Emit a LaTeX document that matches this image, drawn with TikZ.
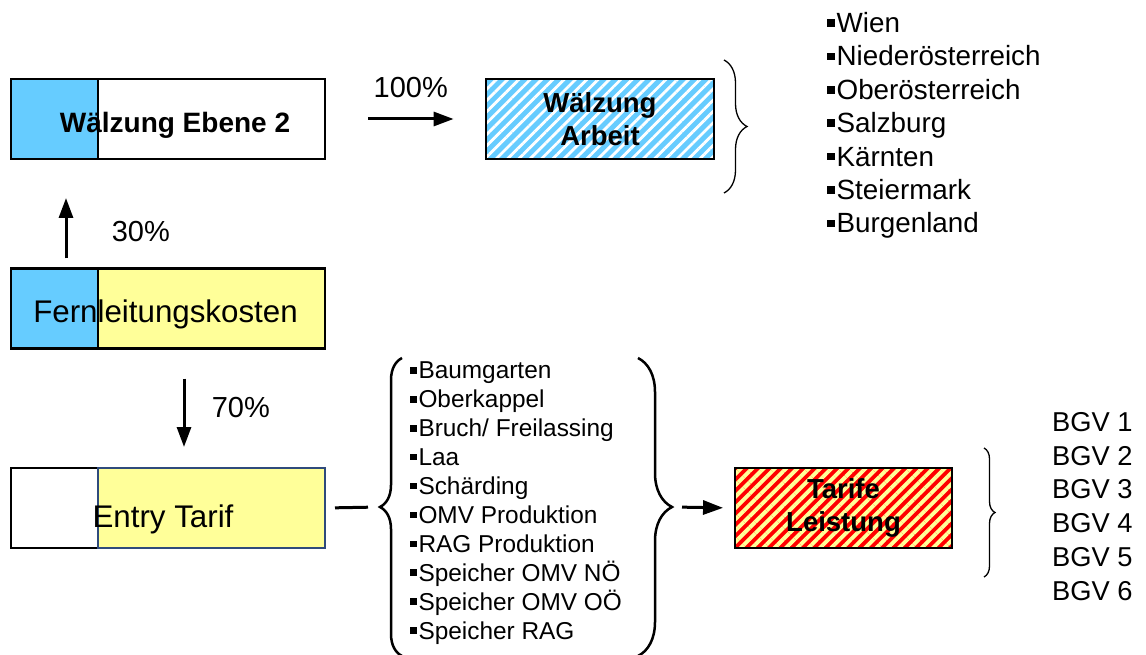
\documentclass[tikz,border=0pt]{standalone}
\usepackage{fontspec}
\setmainfont{Liberation Sans}
\usetikzlibrary{arrows.meta,decorations.pathreplacing,patterns.meta}
\definecolor{boxblue}{HTML}{66CCFF}
\definecolor{boxyellow}{HTML}{FFFF99}
\definecolor{boxred}{HTML}{FF0000}
\definecolor{boxnavy}{HTML}{2F4B7C}
\newcommand{\sqb}{\rule[0.21em]{0.27em}{0.27em}\hspace{0.07em}}

\begin{document}
\begin{tikzpicture}[x=1pt,y=-1pt,
    part/.style={draw,line width=2.5pt,minimum height=80pt,inner sep=0pt,outer sep=0pt},
    hatchbox/.style={draw,line width=2.5pt,minimum height=80pt,inner sep=0pt,align=center,
        font=\fontsize{27.5}{33}\selectfont\bfseries},
    flow/.style={line width=3pt,-{Triangle[length=20pt,width=14pt]}},
    pct/.style={font=\fontsize{29}{34}\selectfont},
    curly/.style={decorate,decoration={brace,amplitude=#1}},
    itemlist/.style={align=left,inner sep=0pt,anchor=base west}]

    \useasboundingbox (0,0) rectangle (1146,655);

    % Boxes
    \node[part,fill=boxblue,minimum width=87pt] (webl) at (54.5,119) {};
    \node[part,fill=white,minimum width=227pt,anchor=west] (webr) at (webl.east) {};
    \node[anchor=base,font=\fontsize{28}{33}\selectfont\bfseries] (wetext) at (175,133) {Wälzung Ebene 2};

    \node[part,fill=boxblue,minimum width=87pt] (fernl) at (54.5,308.5) {};
    \node[part,fill=boxyellow,minimum width=227pt,anchor=west] (fernr) at (fernl.east) {};
    \node[anchor=base,font=\fontsize{31.3}{36}\selectfont] (ferntext) at (165.5,322) {Fernleitungskosten};

    \node[part,fill=white,minimum width=87pt] (entryl) at (54.5,508) {};
    \node[part,fill=boxyellow,draw=boxnavy,minimum width=227pt,anchor=west] (entryr) at (entryl.east) {};
    \node[anchor=base,font=\fontsize{31.3}{36}\selectfont] (entrytext) at (163,527) {Entry Tarif};

    \node[hatchbox,minimum width=228pt,preaction={fill=boxblue},
        pattern={Lines[angle=45,distance=8pt,line width=2.8pt]},pattern color=white]
        (arbeit) at (600,119) {Wälzung\\Arbeit};
    \node[hatchbox,minimum width=217pt,preaction={fill=boxred},
        pattern={Lines[angle=45,distance=8pt,line width=3.9pt]},pattern color=boxyellow]
        (tarife) at (843.5,508) {Tarife\\Leistung};

    % Arrows
    \draw[flow,shorten <=43pt,shorten >=31pt] (webr.east) -- (arbeit.west)
        node[pct,midway,anchor=base,xshift=6pt,yshift=21pt] (p100) {100\%};
    \draw[flow,shorten <=10pt,shorten >=39pt] ([xshift=11.5pt]fernl.north) -- ([xshift=11.5pt]webl.south)
        node[pct,midway,anchor=base west,xshift=41pt,yshift=-27.5pt] (p30) {30\%};
    \draw[flow,shorten <=30pt,shorten >=21pt] ([xshift=-27.5pt]fernr.south) -- ([xshift=-27.5pt]entryr.north)
        node[pct,midway,anchor=base west,xshift=23pt,yshift=-9.5pt] (p70) {70\%};

    % Braces
    \coordinate (ltip) at (380,507);
    \coordinate (rtip) at (672,507);
    \draw[curly=22pt,decoration={mirror},line width=2.5pt] (402,358) -- (402,656);
    \draw[curly=34pt,line width=2.5pt] (638,358) -- (638,656);
    \draw[line width=3pt,shorten <=10pt,shorten >=12pt] (entryr.east) -- (ltip);
    \draw[flow,shorten <=10pt,shorten >=10pt] (rtip) -- (tarife.west);
    \draw[curly=23pt,line width=1.3pt] (724,60) -- (724,193);
    \draw[curly=11pt,line width=1.3pt] (984,448) -- (984,577);

    % Lists (base = last line)
    \node[itemlist,font=\fontsize{27.8}{33.4}\selectfont] (regions) at (827,233)
        {\sqb Wien\\\sqb Niederösterreich\\\sqb Oberösterreich\\\sqb Salzburg\\
         \sqb Kärnten\\\sqb Steiermark\\\sqb Burgenland};
    \node[itemlist,font=\fontsize{24.4}{28.9}\selectfont] (points) at (410,639)
        {\sqb Baumgarten\\\sqb Oberkappel\\\sqb Bruch/ Freilassing\\\sqb Laa\\\sqb Schärding\\
         \sqb OMV Produktion\\\sqb RAG Produktion\\\sqb Speicher OMV NÖ\\\sqb Speicher OMV OÖ\\
         \sqb Speicher RAG};
    \node[itemlist,font=\fontsize{27.3}{33.75}\selectfont] (bgvs) at (1052,600)
        {BGV 1\\BGV 2\\BGV 3\\BGV 4\\BGV 5\\BGV 6};
\end{tikzpicture}
\end{document}
